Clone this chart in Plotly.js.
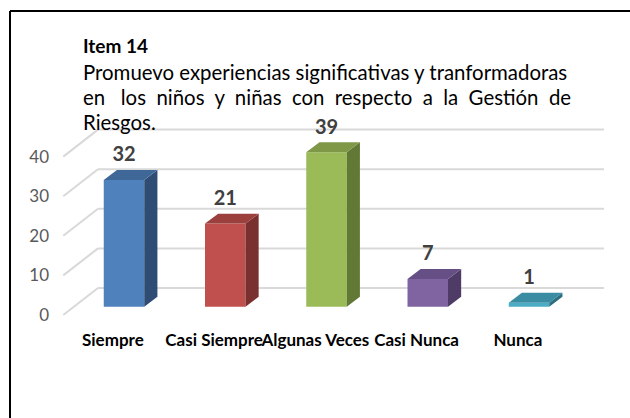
<!DOCTYPE html>
<html>
<head>
<meta charset="utf-8">
<script src="https://cdn.plot.ly/plotly-3.0.1.min.js"></script>
<style>
  html, body { margin: 0; padding: 0; background: #fff; overflow: hidden; }
  #graph { width: 630px; height: 418px; }
</style>
</head>
<body>
<div id="graph"></div>
<script>
//***** data
var categories = ['Siempre', 'Casi Siempre', 'Algunas Veces', 'Casi Nunca', 'Nunca'];
var values = [32, 21, 39, 7, 1];
var yTicks = [0, 10, 20, 30, 40];

var frontColors = ['#4F81BD', '#C0504D', '#9BBB59', '#8064A2', '#4BACC6'];
var topColors = ['#3F6899', '#9C403D', '#7E9848', '#664F85', '#3A8CA3'];
var sideColors = ['#2F4D74', '#7A302E', '#627936', '#4E3C67', '#2C6D80'];

//***** fake 3d geometry (axis units)
var barW = 0.4;      // front face width
var depthX = 0.13;   // bar depth, x units
var depthY = 2.5;    // bar depth, y units
var wallY = 4.72;    // back wall offset of gridlines
var wallX0 = -0.257, wallX1 = 4.74;
var floorX = -0.6, floorY = -2.1;

var font = 'Lato, "Open Sans", sans-serif';
var data = [];

// front faces
data.push({
  x: categories.map(function (c, i) { return i; }),
  y: values,
  type: 'bar',
  width: barW,
  marker: { color: frontColors, line: { width: 0 } },
  hoverinfo: 'skip',
  showlegend: false
});

// top and side faces
values.forEach(function (v, i) {
  var l = i - barW / 2, r = i + barW / 2;
  data.push({
    x: [r, r + depthX, r + depthX, r, r],
    y: [0, depthY, v + depthY, v, 0],
    type: 'scatter', mode: 'lines', fill: 'toself',
    fillcolor: sideColors[i], line: { width: 0, color: sideColors[i] },
    hoverinfo: 'skip', showlegend: false
  });
  data.push({
    x: [l, r, r + depthX, l + depthX, l],
    y: [v, v, v + depthY, v + depthY, v],
    type: 'scatter', mode: 'lines', fill: 'toself',
    fillcolor: topColors[i], line: { width: 0, color: topColors[i] },
    hoverinfo: 'skip', showlegend: false
  });
});

// value labels
data.push({
  x: categories.map(function (c, i) { return i; }),
  y: values.map(function (v) { return v + 6; }),
  text: values.map(String),
  type: 'scatter', mode: 'text',
  textfont: { family: font, size: 20, color: '#404040', weight: 'bold' },
  cliponaxis: false, hoverinfo: 'skip', showlegend: false
});

// back wall gridlines + left diagonals, under the bars
var shapes = [];
yTicks.forEach(function (t) {
  shapes.push({
    type: 'line', xref: 'x', yref: 'y', layer: 'below',
    x0: wallX0, x1: wallX1, y0: t + wallY, y1: t + wallY,
    line: { color: '#D9D9D9', width: 2 }
  });
  shapes.push({
    type: 'line', xref: 'x', yref: 'y', layer: 'below',
    x0: floorX, x1: wallX0, y0: t + floorY, y1: t + wallY,
    line: { color: '#D9D9D9', width: 2 }
  });
});

var titleLines = [
  'Promuevo experiencias significativas y tranformadoras',
  'en\u00A0\u00A0 los\u00A0 niños\u00A0 y\u00A0 niñas\u00A0 con\u00A0 respecto\u00A0 a\u00A0 la\u00A0 Gestión\u00A0 de',
  'Riesgos.'
];

// plot area: px 50..610 x, 120..320 y
function px(x) { return (x - 50) / 560; }
function py(y) { return (320 - y) / 200; }

var annotations = [{
  xref: 'paper', yref: 'paper', x: px(81), y: py(46),
  xanchor: 'left', yanchor: 'middle', showarrow: false,
  text: '<b>Item 14</b>',
  font: { family: font, size: 19, color: '#000' }
}];
titleLines.forEach(function (s, k) {
  annotations.push({
    xref: 'paper', yref: 'paper', x: px(81), y: py(72 + 25 * k),
    xanchor: 'left', yanchor: 'middle', showarrow: false,
    text: s,
    font: { family: font, size: 20.4, color: '#000' }
  });
});

// chart frame: only left and top edges fall inside the picture
shapes.push({
  type: 'line', xref: 'paper', yref: 'paper', layer: 'above',
  x0: px(10), x1: px(10), y0: py(11), y1: py(418),
  line: { color: '#000', width: 2 }
});
shapes.push({
  type: 'line', xref: 'paper', yref: 'paper', layer: 'above',
  x0: px(10), x1: px(630), y0: py(11), y1: py(11),
  line: { color: '#000', width: 2 }
});

var layout = {
  width: 630,
  height: 418,
  margin: { l: 50, r: 20, t: 120, b: 98 },
  paper_bgcolor: '#fff',
  plot_bgcolor: 'rgba(0,0,0,0)',
  showlegend: false,
  xaxis: {
    range: [-0.7309, 4.8],
    showgrid: false, zeroline: false, showline: false,
    tickvals: categories.map(function (c, i) { return i - 0.11; }),
    ticktext: categories,
    ticks: '',
    tickangle: 0,
    ticklabelstandoff: 8,
    tickfont: { family: font, size: 17, color: '#000', weight: 'bold' },
    fixedrange: true
  },
  yaxis: {
    range: [-3.359, 47.146],
    showgrid: false, zeroline: false, showline: false,
    tickvals: yTicks.map(function (t) { return t + floorY; }),
    ticktext: yTicks.map(String),
    ticks: '',
    tickfont: { family: font, size: 17, color: '#595959' },
    fixedrange: true
  },
  annotations: annotations,
  shapes: shapes
};

Plotly.newPlot('graph', data, layout, { displayModeBar: false, staticPlot: true });
</script>
</body>
</html>
